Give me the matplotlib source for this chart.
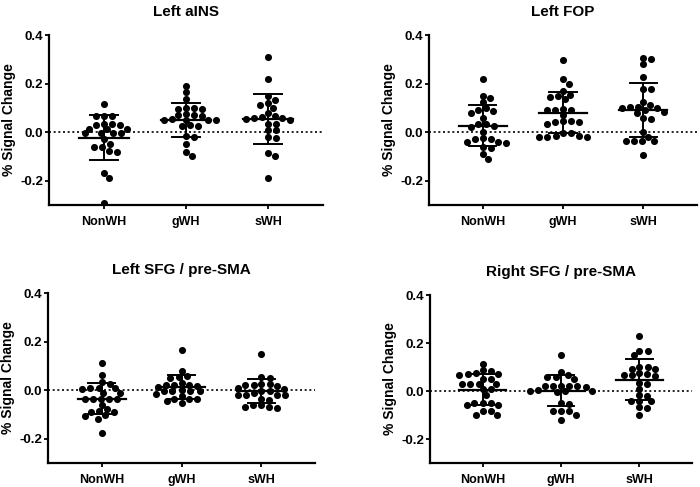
import numpy as np
import matplotlib
matplotlib.use('Agg')
from matplotlib import pyplot as plt

plt.rcParams['font.family'] = ['Liberation Sans', 'DejaVu Sans']
plt.rcParams['font.weight'] = 'bold'

groups = ['NonWH', 'gWH', 'sWH']
titles = ['Left aINS', 'Left FOP', 'Left SFG / pre-SMA', 'Right SFG / pre-SMA']
y_ticks = [-0.2, 0.0, 0.2, 0.4]
y_tick_labels = ['-0.2', '0.0', '0.2', '0.4']

# % signal change per participant
left_ains_nonwh = [0.117, 0.065, 0.065, 0.065, 0.035, 0.03, 0.035, 0.03, 0.015, 0.015, 0.012,
                   -0.005, -0.005, -0.004, -0.005, -0.03, -0.048, -0.06, -0.06, -0.08, -0.076,
                   -0.17, -0.19, -0.29]
left_ains_gwh = [0.19, 0.165, 0.135, 0.095, 0.1, 0.095, 0.1, 0.07, 0.075, 0.07, 0.068, 0.05,
                 0.052, 0.05, 0.048, 0.053, 0.025, 0.028, 0.025, -0.015, -0.02, -0.048, -0.083, -0.1]
left_ains_swh = [0.31, 0.22, 0.147, 0.134, 0.12, 0.113, 0.1, 0.08, 0.065, 0.062, 0.058, 0.058,
                 0.048, 0.055, 0.035, 0.035, 0.01, 0.01, -0.02, -0.025, -0.087, -0.098, -0.19]

left_fop_nonwh = [0.218, 0.15, 0.14, 0.123, 0.1, 0.09, 0.088, 0.08, 0.057, 0.035, 0.025, 0.033,
                  0.02, 0.0, -0.03, -0.04, -0.045, -0.04, -0.025, -0.03, -0.065, -0.06, -0.09, -0.11]
left_fop_gwh = [0.296, 0.218, 0.2, 0.17, 0.155, 0.15, 0.145, 0.135, 0.095, 0.09, 0.092, 0.09,
                0.07, 0.045, 0.04, 0.035, 0.045, 0.04, -0.005, -0.015, -0.02, -0.02, -0.02,
                -0.015, -0.005]
left_fop_swh = [0.307, 0.303, 0.28, 0.228, 0.176, 0.176, 0.125, 0.105, 0.1, 0.1, 0.105, 0.11,
                0.085, 0.08, 0.09, 0.055, 0.06, 0.0, -0.02, -0.038, -0.038, -0.038, -0.038, -0.093]

left_sfg_nonwh = [0.112, 0.064, 0.033, 0.027, 0.01, 0.005, 0.01, 0.008, -0.011, -0.011, -0.035,
                  -0.035, -0.035, -0.035, -0.035, -0.06, -0.085, -0.09, -0.09, -0.078, -0.107,
                  -0.104, -0.12, -0.178]
left_sfg_gwh = [0.167, 0.078, 0.06, 0.055, 0.052, 0.022, 0.02, 0.015, 0.02, 0.03, 0.018, -0.005,
                0.0, -0.004, -0.004, -0.004, -0.014, -0.035, -0.045, -0.052, -0.038, -0.035, -0.025]
left_sfg_swh = [0.15, 0.055, 0.052, 0.025, 0.02, 0.027, 0.018, 0.02, 0.005, -0.002, -0.005,
                -0.018, -0.02, -0.022, -0.018, -0.035, -0.042, -0.06, -0.068, -0.072, -0.068,
                -0.06, -0.01, 0.008]

right_sfg_nonwh = [0.113, 0.088, 0.085, 0.072, 0.07, 0.068, 0.075, 0.05, 0.052, 0.03, 0.03, 0.03,
                   0.03, 0.007, 0.007, -0.015, -0.05, -0.05, -0.05, -0.06, -0.06, -0.085, -0.085,
                   -0.1, -0.1]
right_sfg_gwh = [0.148, 0.079, 0.065, 0.06, 0.058, 0.05, 0.022, 0.02, 0.022, 0.02, 0.022, 0.018,
                 0.005, 0.002, 0.0, 0.002, -0.004, -0.048, -0.055, -0.085, -0.085, -0.1, -0.085,
                 -0.122]
right_sfg_swh = [0.23, 0.168, 0.165, 0.15, 0.1, 0.09, 0.092, 0.1, 0.075, 0.065, 0.063, 0.065,
                 0.07, 0.03, 0.035, 0.01, -0.015, -0.02, -0.04, -0.042, -0.04, -0.065, -0.07, -0.1]

panels = [
    [left_ains_nonwh, left_ains_gwh, left_ains_swh],
    [left_fop_nonwh, left_fop_gwh, left_fop_swh],
    [left_sfg_nonwh, left_sfg_gwh, left_sfg_swh],
    [right_sfg_nonwh, right_sfg_gwh, right_sfg_swh],
]

# axes boxes in pixels (left, top, right, bottom) on a 700x487 canvas
boxes = [(49, 35, 323, 205), (429, 35, 697, 205), (48, 293, 315, 463), (430, 295, 692, 463)]
W, H = 700, 487


def swarm_offsets(vals, ax, gap_x, gap_y):
    # beeswarm in pixel space with an elliptical keep-out zone, x offsets in data units
    to_px = ax.transData.transform
    y_px = np.array([to_px((0, v))[1] for v in vals]) / gap_y
    x_unit = to_px((1, 0))[0] - to_px((0, 0))[0]
    placed = []
    offsets = np.zeros(len(vals))
    for i in np.argsort(-y_px):
        y = y_px[i]
        cands = [0.0]
        for (px, py) in placed:
            dy = y - py
            if abs(dy) < 1:
                dx = np.sqrt(1 - dy ** 2)
                cands += [px + dx, px - dx]
        cands.sort(key=abs)
        for c in cands:
            if all((c - px) ** 2 + (y - py) ** 2 >= 1 - 1e-6 for (px, py) in placed):
                placed.append((c, y))
                offsets[i] = c * gap_x / x_unit
                break
    return offsets


figure = plt.figure(figsize=(7, 4.87), dpi=100)
for (k, box) in enumerate(boxes):
    l, t, r, b = box
    axis = figure.add_axes([l / W, 1 - b / H, (r - l) / W, (b - t) / H])
    axis.set_xlim(-0.67, 2.67)
    axis.set_ylim(-0.3, 0.4)
    axis.axhline(0, color='black', linestyle=(0, (1.2, 1.6)), linewidth=1.2, zorder=1)
    for (j, vals) in enumerate(panels[k]):
        vals = np.array(vals)
        off = swarm_offsets(vals, axis, 8.2, 6.0)
        axis.scatter(j + off, vals, s=26, color='black', zorder=3, linewidths=0)
        m, sd = vals.mean(), vals.std(ddof=1)
        axis.plot([j - 0.3, j + 0.3], [m, m], color='black', linewidth=1.6, zorder=4)
        axis.plot([j, j], [m - sd, m + sd], color='black', linewidth=1.4, zorder=4)
        axis.plot([j - 0.17, j + 0.17], [m + sd, m + sd], color='black', linewidth=1.4, zorder=4)
        axis.plot([j - 0.17, j + 0.17], [m - sd, m - sd], color='black', linewidth=1.4, zorder=4)
    for side in ['top', 'right']:
        axis.spines[side].set_visible(False)
    for side in ['left', 'bottom']:
        axis.spines[side].set_linewidth(1.6)
    axis.set_xticks(range(len(groups)))
    axis.set_xticklabels(groups, fontsize=9, fontweight='bold')
    axis.set_yticks(y_ticks)
    axis.set_yticklabels(y_tick_labels, fontsize=9.5, fontweight='bold')
    axis.tick_params(axis='both', length=3, width=1.3, pad=1)
    axis.tick_params(axis='x', pad=5)
    axis.set_ylabel('% Signal Change', fontsize=10, fontweight='bold', labelpad=3)
    axis.set_title(titles[k], fontsize=11, fontweight='bold', pad=14)

plt.savefig('out.png', dpi=100)
